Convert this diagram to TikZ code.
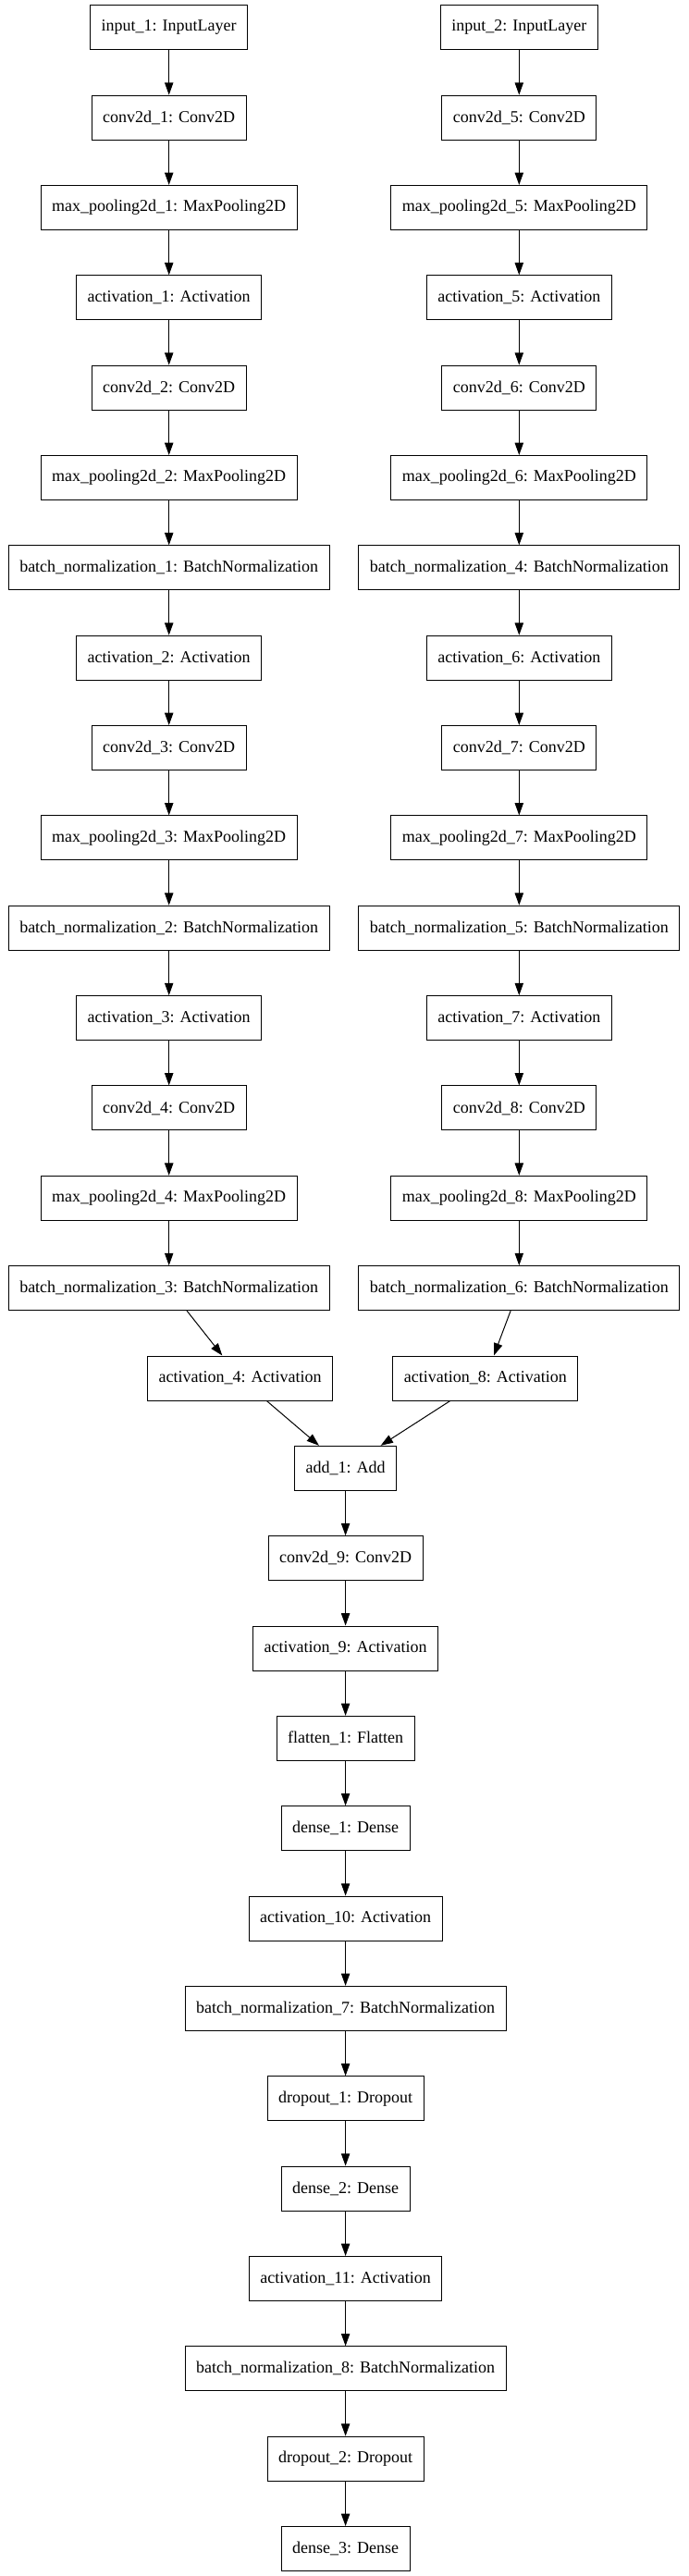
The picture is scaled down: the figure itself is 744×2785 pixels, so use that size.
\documentclass[tikz,border=0pt]{standalone}
\usepackage{fontspec}
\setmainfont{Liberation Serif}
\usepackage{tikz}
\usetikzlibrary{shapes,arrows.meta}

\tikzset{
  layer/.style={rectangle,draw,line width=0.75pt,minimum height=36pt,
    inner xsep=9pt,inner ysep=2pt,fill=white,
    font=\fontsize{13.5}{16}\selectfont},
  flow/.style={line width=0.75pt},
  >={Triangle[length=10pt,width=7pt]}
}

\begin{document}
\begin{tikzpicture}[x=0.75pt,y=-0.75pt]

\useasboundingbox (0,0) rectangle (744,2785);

% first branch
\node [layer] (a1) at (182.7,29.7) {input\_1: InputLayer};
\node [layer] (a2) at (182.7,127.1) {conv2d\_1: Conv2D};
\node [layer] (a3) at (182.7,224.4) {max\_pooling2d\_1: MaxPooling2D};
\node [layer] (a4) at (182.7,321.8) {activation\_1: Activation};
\node [layer] (a5) at (182.7,419.1) {conv2d\_2: Conv2D};
\node [layer] (a6) at (182.7,516.5) {max\_pooling2d\_2: MaxPooling2D};
\node [layer] (a7) at (182.7,613.8) {batch\_normalization\_1: BatchNormalization};
\node [layer] (a8) at (182.7,711.2) {activation\_2: Activation};
\node [layer] (a9) at (182.7,808.5) {conv2d\_3: Conv2D};
\node [layer] (a10) at (182.7,905.9) {max\_pooling2d\_3: MaxPooling2D};
\node [layer] (a11) at (182.7,1003.2) {batch\_normalization\_2: BatchNormalization};
\node [layer] (a12) at (182.7,1100.6) {activation\_3: Activation};
\node [layer] (a13) at (182.7,1197.9) {conv2d\_4: Conv2D};
\node [layer] (a14) at (182.7,1295.3) {max\_pooling2d\_4: MaxPooling2D};
\node [layer] (a15) at (182.7,1392.6) {batch\_normalization\_3: BatchNormalization};
\node [layer] (a16) at (259.7,1490.0) {activation\_4: Activation};

% second branch
\node [layer] (b1) at (561.3,29.7) {input\_2: InputLayer};
\node [layer] (b2) at (561.3,127.1) {conv2d\_5: Conv2D};
\node [layer] (b3) at (561.3,224.4) {max\_pooling2d\_5: MaxPooling2D};
\node [layer] (b4) at (561.3,321.8) {activation\_5: Activation};
\node [layer] (b5) at (561.3,419.1) {conv2d\_6: Conv2D};
\node [layer] (b6) at (561.3,516.5) {max\_pooling2d\_6: MaxPooling2D};
\node [layer] (b7) at (561.3,613.8) {batch\_normalization\_4: BatchNormalization};
\node [layer] (b8) at (561.3,711.2) {activation\_6: Activation};
\node [layer] (b9) at (561.3,808.5) {conv2d\_7: Conv2D};
\node [layer] (b10) at (561.3,905.9) {max\_pooling2d\_7: MaxPooling2D};
\node [layer] (b11) at (561.3,1003.2) {batch\_normalization\_5: BatchNormalization};
\node [layer] (b12) at (561.3,1100.6) {activation\_7: Activation};
\node [layer] (b13) at (561.3,1197.9) {conv2d\_8: Conv2D};
\node [layer] (b14) at (561.3,1295.3) {max\_pooling2d\_8: MaxPooling2D};
\node [layer] (b15) at (561.3,1392.6) {batch\_normalization\_6: BatchNormalization};
\node [layer] (b16) at (524.8,1490.0) {activation\_8: Activation};

% merged part
\node [layer] (c1) at (373.6,1587.3) {add\_1: Add};
\node [layer] (c2) at (373.6,1684.7) {conv2d\_9: Conv2D};
\node [layer] (c3) at (373.6,1782.0) {activation\_9: Activation};
\node [layer] (c4) at (373.6,1879.4) {flatten\_1: Flatten};
\node [layer] (c5) at (373.6,1976.7) {dense\_1: Dense};
\node [layer] (c6) at (373.6,2074.1) {activation\_10: Activation};
\node [layer] (c7) at (373.6,2171.4) {batch\_normalization\_7: BatchNormalization};
\node [layer] (c8) at (373.6,2268.8) {dropout\_1: Dropout};
\node [layer] (c9) at (373.6,2366.1) {dense\_2: Dense};
\node [layer] (c10) at (373.6,2463.5) {activation\_11: Activation};
\node [layer] (c11) at (373.6,2560.8) {batch\_normalization\_8: BatchNormalization};
\node [layer] (c12) at (373.6,2658.2) {dropout\_2: Dropout};
\node [layer] (c13) at (373.6,2755.5) {dense\_3: Dense};

\foreach \x [count=\y from 2] in {1,...,15}
    \draw [flow,->] (a\x) -- (a\y);
\foreach \x [count=\y from 2] in {1,...,15}
    \draw [flow,->] (b\x) -- (b\y);

\draw [flow,->] (a16) -- (c1);
\draw [flow,->] (b16) -- (c1);

\foreach \x [count=\y from 2] in {1,...,12}
    \draw [flow,->] (c\x) -- (c\y);

\end{tikzpicture}
\end{document}
